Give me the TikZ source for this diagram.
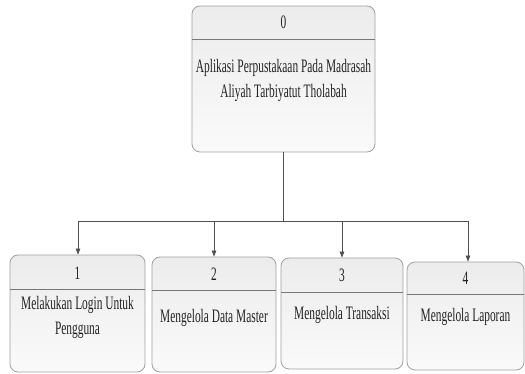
\documentclass[tikz,border=0pt]{standalone}
\usepackage{fontspec}
\setmainfont{Liberation Serif}
\newfontfamily\condfont[FakeStretch=0.6]{Liberation Serif}
\usetikzlibrary{arrows.meta}
\definecolor{boxtop}{RGB}{236,236,236}
\definecolor{boxbot}{RGB}{250,250,250}
\definecolor{boxline}{RGB}{160,160,160}
\definecolor{divline}{RGB}{120,120,120}
\definecolor{conline}{RGB}{80,80,80}
\definecolor{txt}{RGB}{35,35,35}
\begin{document}
\begin{tikzpicture}[x=1pt,y=-1pt,
  procbox/.style={draw=boxline, line width=0.8pt, rounded corners=8pt, top color=boxtop, bottom color=boxbot, inner sep=0pt},
  divider/.style={draw=divline, line width=0.9pt},
  lbl/.style={font=\condfont\fontsize{19}{25}\selectfont, text=txt, align=center, inner sep=0pt},
  conn/.style={draw=conline, line width=0.8pt},
  arr/.style={conn, -{Triangle[length=6pt,width=4.5pt]}}
]
\useasboundingbox (0,0) rectangle (525,374);
% top box
\node[procbox, minimum width=183pt, minimum height=146pt] (b0) at (283.5,79) {};
\draw[divider] (192,39) -- (375,39);
\node[lbl] (n0) at (283.5,22) {0};
\node[lbl] (t0) at (283.5,80) {Aplikasi Perpustakaan Pada Madrasah\\Aliyah Tarbiyatut Tholabah};
% box 1
\node[procbox, minimum width=135pt, minimum height=117pt] (b1) at (77.5,313.5) {};
\draw[divider] (10,289) -- (145,289);
\node[lbl] (n1) at (77.5,273) {1};
\node[lbl] (t1) at (77.5,317) {Melakukan Login Untuk\\Pengguna};
% box 2
\node[procbox, minimum width=124pt, minimum height=115pt] (b2) at (214,314.5) {};
\draw[divider] (152,290) -- (276,290);
\node[lbl] (n2) at (214,274) {2};
\node[lbl] (t2) at (214,318) {Mengelola Data Master};
% box 3
\node[procbox, minimum width=122pt, minimum height=111pt] (b3) at (342,313.5) {};
\draw[divider] (281,292) -- (403,292);
\node[lbl] (n3) at (342,275) {3};
\node[lbl] (t3) at (342,315) {Mengelola Transaksi};
% box 4
\node[procbox, minimum width=117pt, minimum height=108pt] (b4) at (465.5,316) {};
\draw[divider] (407,294) -- (524,294);
\node[lbl] (n4) at (465.5,278) {4};
\node[lbl] (t4) at (465.5,317) {Mengelola Laporan};
% connectors
\coordinate (hub) at (283.5,221);
\draw[conn] (b0.south) -- (hub);
\draw[arr] (hub) -| (b1.north -| 78,0);
\draw[arr] (hub) -| (b2.north);
\draw[arr] (hub) -| (b3.north);
\draw[arr] (hub) -| (b4.north -| 468,0);
\end{tikzpicture}
\end{document}
